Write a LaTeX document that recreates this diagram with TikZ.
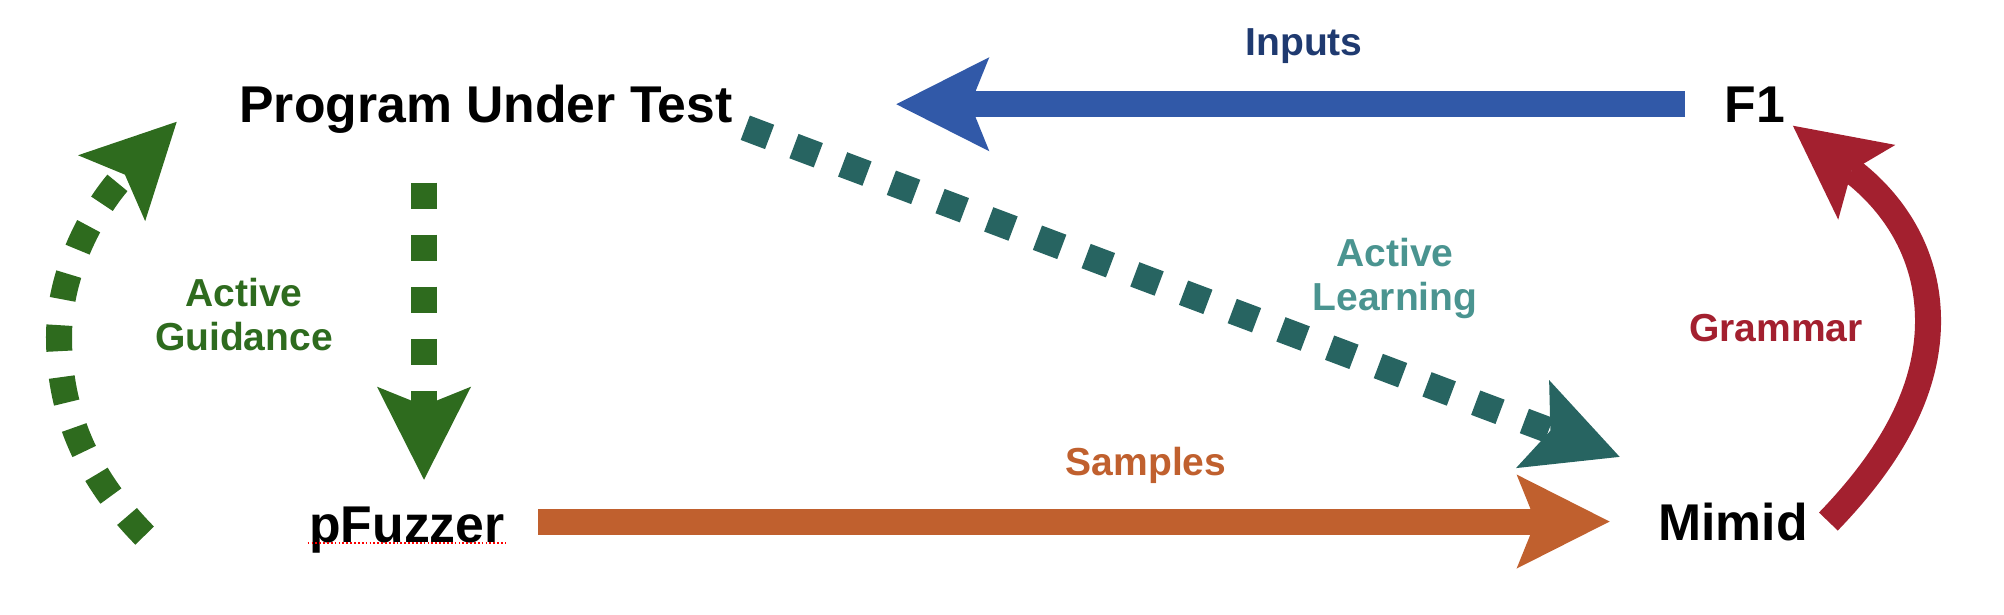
\documentclass[tikz,border=0pt]{standalone}
\usepackage{fontspec}
\setmainfont{Liberation Sans}
\usetikzlibrary{arrows.meta,calc}

\definecolor{inblue}{RGB}{49,89,168}
\definecolor{innavy}{RGB}{31,58,112}
\definecolor{guidegreen}{RGB}{46,107,30}
\definecolor{learnteal}{RGB}{39,100,97}
\definecolor{learnlight}{RGB}{74,148,144}
\definecolor{sampleorange}{RGB}{192,96,46}
\definecolor{grammarred}{RGB}{163,32,47}

\tikzset{
  bigtip/.tip={Stealth[length=0.93cm,width=0.94cm,inset=0.19cm,line width=0pt]},
  flow/.style={line width=0.26cm,-bigtip},
  dashflow/.style={flow,dash pattern=on 0.26cm off 0.26cm},
  tool/.style={font=\bfseries\fontsize{14.7}{17}\selectfont,inner sep=0pt,anchor=base},
  edgelabel/.style={font=\bfseries\fontsize{11.1}{12.66}\selectfont,inner sep=0pt,align=center},
}

\begin{document}
\begin{tikzpicture}[x=0.01cm,y=-0.01cm]
      \useasboundingbox (0,0) rectangle (2004,614);
      \node[tool] (put) at (486,122) {Program Under Test};
      \node[tool] (f1) at (1755,122) {F1};
      \node[tool] (pfz) at (407,542) {pFuzzer};
      \node[tool] (mimid) at (1733,540) {Mimid};
      \draw[red,line width=0.5pt,dash pattern=on 0.5pt off 0.6pt]
        ($(pfz.base west)+(-1,1)$) -- ($(pfz.base east)+(1,1)$);

      \node[edgelabel,innavy,anchor=base] (inputs) at (1304,55) {Inputs};
      \node[edgelabel,sampleorange,anchor=base] (samples) at (1146,475) {Samples};
      \node[edgelabel,grammarred,anchor=base] (grammar) at (1776,341) {Grammar};
      \node[edgelabel,guidegreen,anchor=north] (guidance) at (244,277) {Active\\Guidance};
      \node[edgelabel,learnlight,anchor=north] (learning) at (1395,237) {Active\\Learning};

      \coordinate (intip) at ($(put.east)+(163,0)$);
      \coordinate (samplestart) at ($(pfz.east)+(33,0)$);
      \coordinate (guidetop) at ($(put.south)+(-62,49)$);

      \draw[flow,inblue] ($(f1.west)+(-39,0)$) -- (intip |- f1.west);
      \draw[flow,sampleorange] (samplestart |- mimid.west) -- ($(mimid.west)+(-48,0)$);
      \draw[dashflow,guidegreen] (guidetop) -- ($(guidetop |- pfz.north)+(0,-26)$);
      \draw[dashflow,guidegreen] ($(pfz.west)+(-164,6)$)
        .. controls (85,475) and (59,410) .. (59,337)
        .. controls (59,265) and (100,200) .. ($(put.west)+(-62,13)$);
      \draw[dashflow,learnteal] ($(put.east)+(12,19)$) -- ($(mimid.north west)+(-38,-45)$);
      \draw[flow,grammarred] ($(mimid.east)+(20,0)$)
        .. controls (1880,468) and (1928,400) .. (1928,321)
        .. controls (1928,250) and (1890,200) .. ($(f1.south east)+(7,3)$);
    \end{tikzpicture}
\end{document}
